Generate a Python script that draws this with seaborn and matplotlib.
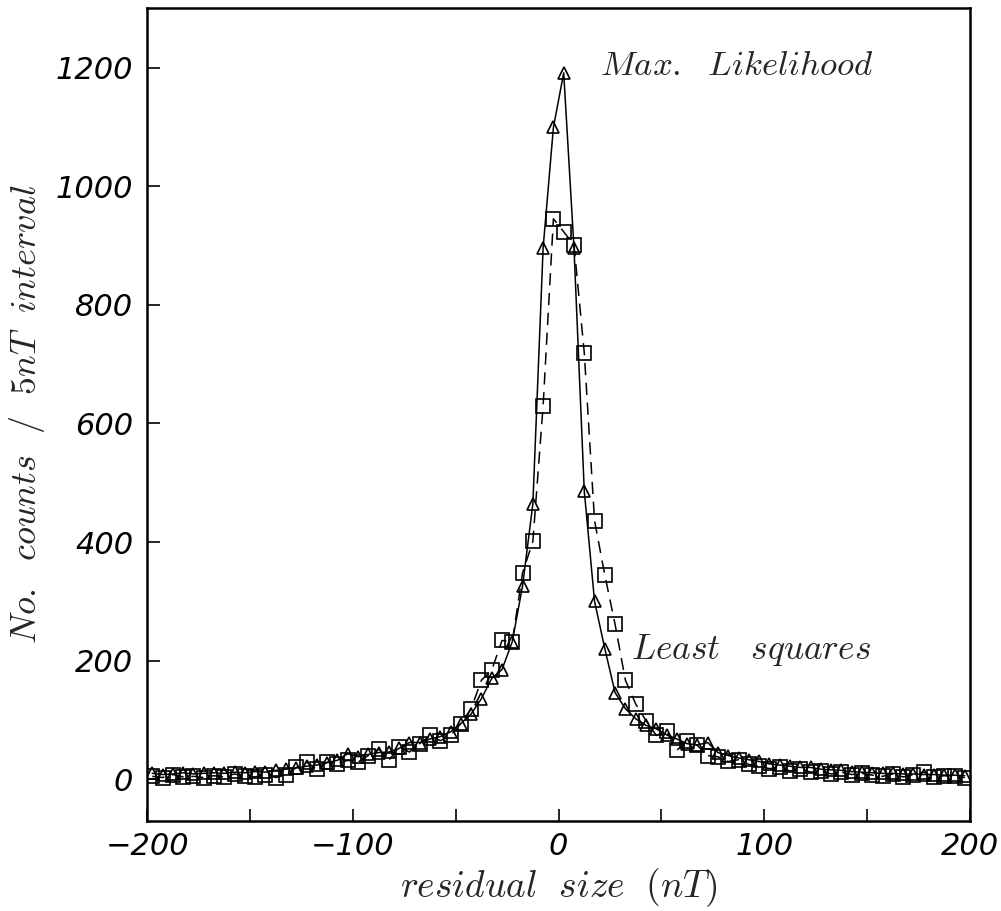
import numpy as np
import pandas as pd
import matplotlib
matplotlib.use("Agg")
import matplotlib.pyplot as plt
import seaborn as sns

# bin centres (nT), 5 nT intervals
residual = [-197.5, -192.5, -187.5, -182.5, -177.5, -172.5, -167.5, -162.5, -157.5, -152.5,
            -147.5, -142.5, -137.5, -132.5, -127.5, -122.5, -117.5, -112.5, -107.5, -102.5,
            -97.5, -92.5, -87.5, -82.5, -77.5, -72.5, -67.5, -62.5, -57.5, -52.5,
            -47.5, -42.5, -37.5, -32.5, -27.5, -22.5, -17.5, -12.5, -7.5, -2.5,
            2.5, 7.5, 12.5, 17.5, 22.5, 27.5, 32.5, 37.5, 42.5, 47.5,
            52.5, 57.5, 62.5, 67.5, 72.5, 77.5, 82.5, 87.5, 92.5, 97.5,
            102.5, 107.5, 112.5, 117.5, 122.5, 127.5, 132.5, 137.5, 142.5, 147.5,
            152.5, 157.5, 162.5, 167.5, 172.5, 177.5, 182.5, 187.5, 192.5, 197.5]

max_likelihood = [10, 8, 9, 11, 9, 10, 11, 10, 12, 11,
                  13, 12, 15, 17, 19, 22, 24, 28, 32, 43,
                  38, 42, 45, 46, 52, 62, 62, 68, 72, 80,
                  94, 110, 136, 170, 185, 232, 326, 464, 896, 1099,
                  1191, 896, 486, 300, 220, 146, 119, 102, 91, 85,
                  75, 68, 60, 58, 62, 45, 40, 36, 33, 30,
                  26, 24, 22, 20, 20, 17, 16, 15, 13, 12,
                  11, 10, 10, 9, 9, 8, 8, 7, 7, 6]

least_squares = [5, 3, 8, 4, 5, 3, 6, 4, 9, 5,
                 4, 8, 3, 7, 20, 29, 17, 29, 26, 32,
                 29, 40, 51, 32, 54, 46, 60, 74, 65, 74,
                 94, 119, 167, 184, 234, 232, 348, 401, 630, 945,
                 923, 901, 719, 436, 344, 261, 167, 127, 99, 74,
                 81, 49, 65, 57, 40, 38, 30, 33, 25, 22,
                 18, 20, 14, 18, 12, 14, 9, 12, 8, 10,
                 7, 5, 9, 4, 8, 12, 4, 6, 5, 3]

df = pd.DataFrame({"residual": residual, "ml": max_likelihood, "ls": least_squares})

sns.set_theme(style="white")
plt.rcParams["mathtext.fontset"] = "cm"
plt.rcParams["font.family"] = ["DejaVu Sans"]

fig = plt.figure(figsize=(10.01, 9.11), dpi=100)
ax = fig.add_axes([0.147, 0.099, 0.822, 0.892])

sns.lineplot(data=df, x="residual", y="ls", ax=ax, color="black", linewidth=1.1,
             linestyle=(0, (8, 5)), marker="s", markersize=9.5, markerfacecolor="none",
             markeredgecolor="black", markeredgewidth=1.2, estimator=None, sort=False)
sns.lineplot(data=df, x="residual", y="ml", ax=ax, color="black", linewidth=1.1,
             marker="^", markersize=8.5, markerfacecolor="none",
             markeredgecolor="black", markeredgewidth=1.2, estimator=None, sort=False)

ax.set_xlim(-200, 200)
ax.set_ylim(-70, 1300)
ax.set_xticks([-200, -150, -100, -50, 0, 50, 100, 150, 200])
ax.set_xticklabels(["\u2212200", "", "\u2212100", "", "0", "", "100", "", "200"])
ax.set_yticks([0, 200, 400, 600, 800, 1000, 1200])
ax.set_yticklabels(["0", "200", "400", "600", "800", "1000", "1200"])
ax.tick_params(axis="both", direction="in", length=9, width=1.2, labelsize=22,
               bottom=True, left=True, top=False, right=False, colors="black")
ax.tick_params(axis="x", pad=8)
ax.tick_params(axis="y", pad=10)
for lab in ax.get_xticklabels() + ax.get_yticklabels():
    lab.set_fontstyle("italic")

for s in ax.spines.values():
    s.set_linewidth(1.8)
    s.set_color("black")

ax.set_xlabel(r"$residual\ \ size\ \ (nT)$", fontsize=27, labelpad=4)
ax.set_ylabel(r"$No.\ \ counts\ \ /\ \ 5nT\ \ interval$", fontsize=26)
ax.yaxis.set_label_coords(-0.122, 0.5)

ax.text(20, 1205, r"$Max.\ \ Likelihood$", fontsize=25, ha="left", va="center")
ax.text(35, 218, r"$Least\ \ \ squares$", fontsize=25.5, ha="left", va="center")

fig.savefig("out.png", dpi=100)
